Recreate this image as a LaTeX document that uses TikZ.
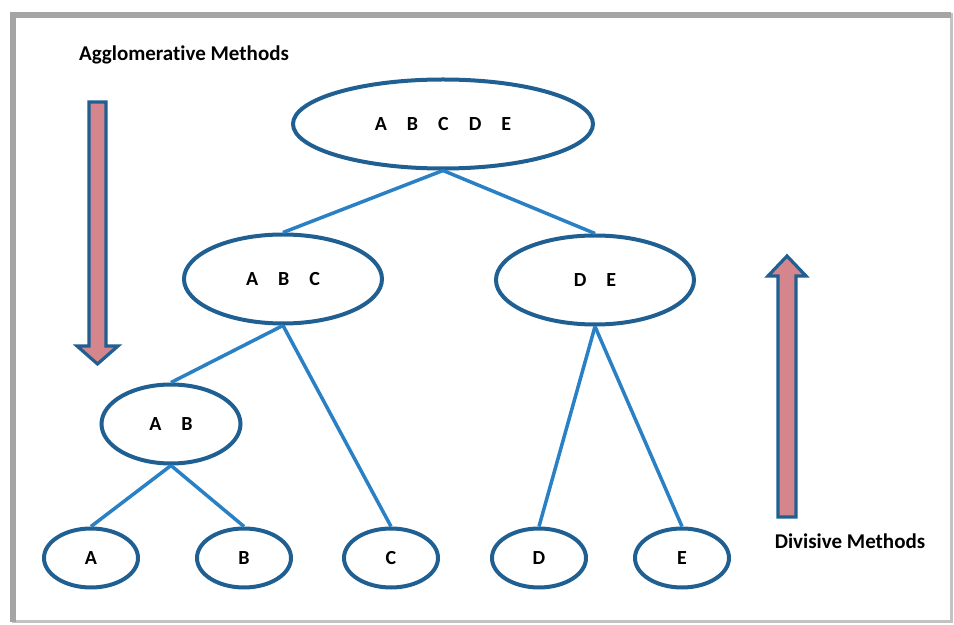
\documentclass[tikz,border=0pt]{standalone}
\usepackage{fontspec}
\setmainfont{Carlito}[Ligatures = NoCommon]
\usepackage{tikz}
\usetikzlibrary{shapes.geometric, positioning}

\definecolor{treeblue}{RGB}{31,95,145}
\definecolor{linkblue}{RGB}{41,128,196}
\definecolor{arrowpink}{RGB}{212,134,140}
\definecolor{framegray}{RGB}{165,165,165}
\definecolor{framelight}{RGB}{195,195,195}

\begin{document}
\begin{tikzpicture}[
        x = 1pt, y = 1pt,
        on grid,
        every node/.style = {font = \bfseries},
        blob/.style = {ellipse, draw = treeblue, line width = 2pt, inner sep = 0pt},
        leaf/.style = {blob, minimum width = 47pt, minimum height = 29.5pt},
        link/.style = {draw = linkblue, line width = 1.75pt},
        bigarrow/.style = {draw = treeblue, line width = 1.6pt, fill = arrowpink},
        heading/.style = {font = \bfseries\fontsize{10.5}{12}\selectfont}
    ]

        \useasboundingbox (0,0) rectangle (477,-312.5);
        % frame: thin light sides, heavier top and left
        \draw[framelight, line width = 1.5pt] (6.5,-7.5) rectangle (475.5,-311);
        \draw[framegray, line width = 2.8pt] (6.5,-311) -- (6.5,-7.5) -- (475.5,-7.5);


        \node[blob, minimum width = 150pt, minimum height = 44.5pt] (all) at (221.5,-62) {A\quad B\quad C\quad D\quad E};
        \node[blob, minimum width = 99pt, minimum height = 44.5pt] (abc) [below left = 77.5pt and 80pt of all] {A\quad B\quad C};
        \node[blob, minimum width = 99pt, minimum height = 44.5pt] (de) [below right = 78pt and 76pt of all] {D\quad E};
        \node[blob, minimum width = 69.5pt, minimum height = 39.5pt] (ab) [below left = 72.5pt and 56pt of abc] {A\quad B};

        \node[leaf] (a) [below left = 67pt and 40pt of ab] {A};
        \node[leaf] (b) [right = 76.5pt of a] {B};
        \node[leaf] (c) [right = 73.5pt of b] {C};
        \node[leaf] (d) [right = 74pt of c] {D};
        \node[leaf] (e) [right = 71.5pt of d] {E};


        \path[link]
            (all.south) edge (abc.north)
            (all.south) edge (de.north)
            (abc.south) edge (ab.north)
            (abc.south) edge (c.north)
            (ab.south) edge (a.north)
            (ab.south) edge (b.north)
            (de.south) edge (d.north)
            (de.south) edge (e.north);


        \node[heading] (agglo) at (92,-27.5) {Agglomerative Methods};
        \node[heading] (divis) at (425,-270.5) {Divisive Methods};

        \draw[bigarrow] (44.5,-51) -- (53,-51) -- (53,-173) -- (59,-173) -- (48.75,-182)
            -- (38.5,-173) -- (44.5,-173) -- cycle;
        \draw[bigarrow] (389,-258.5) -- (398,-258.5) -- (398,-138) -- (403,-138) -- (393.5,-128)
            -- (384,-138) -- (389,-138) -- cycle;


    \end{tikzpicture}
\end{document}
